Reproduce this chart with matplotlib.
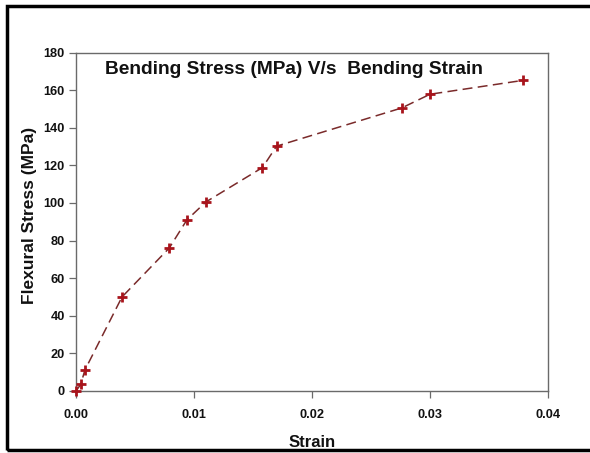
import numpy as np
import matplotlib
matplotlib.use('Agg')
from matplotlib import pyplot as plt
from matplotlib.patches import Rectangle

# values
strain = [0.0, 0.0004, 0.00076, 0.0039, 0.0079, 0.0094, 0.0110, 0.0158, 0.0170, 0.0276, 0.0300, 0.0379]
stress = [0.0, 3.5, 11.2, 50.0, 76.0, 91.0, 100.5, 118.8, 130.2, 150.5, 157.8, 165.2]

xticks = [0.00, 0.01, 0.02, 0.03, 0.04]
yticks = [0, 20, 40, 60, 80, 100, 120, 140, 160, 180]

plt.rcParams['font.family'] = ['Liberation Sans', 'DejaVu Sans']
plt.rcParams['font.weight'] = 'bold'

fig = plt.figure(figsize=(5.9, 4.53), dpi=100)
ax = fig.add_axes([0.1288, 0.1369, 0.8, 0.7472])

ax.plot(strain, stress, linestyle=(0, (6.5, 3.5)), color='#7a2a2a', lw=1.1,
        marker='+', markersize=6.5, markeredgewidth=2.0,
        markeredgecolor='#a8141c', zorder=3, clip_on=False)

ax.set_xlim(0, 0.04)
ax.set_ylim(0, 180)
ax.set_xticks(xticks)
ax.set_xticklabels(['%.2f' % t for t in xticks])
ax.set_yticks(yticks)

for s in ax.spines.values():
    s.set_color('#6a6a6a')
    s.set_linewidth(1.0)
ax.tick_params(axis='both', direction='out', length=5, width=0.9,
               color='#6a6a6a', labelsize=9.2, labelcolor='#111111')
ax.tick_params(axis='x', pad=8)
ax.tick_params(axis='y', pad=3)

ax.set_xlabel('Strain', fontsize=12, fontweight='bold', color='#111111', labelpad=10)
ax.set_ylabel('Flexural Stress (MPa)', fontsize=12.5, fontweight='bold', color='#111111')
ax.yaxis.set_label_coords(-0.082, 0.52)

ax.text(0.061, 0.951, 'Bending Stress (MPa) V/s  Bending Strain', transform=ax.transAxes,
        ha='left', va='center', fontsize=13.8, fontweight='bold', color='#111111')

# black frame around the figure
frame = Rectangle((0.0119, 0.0066), 1.0, 0.9802, transform=fig.transFigure,
                  fill=False, edgecolor='black', lw=2.5, clip_on=False)
fig.patches.append(frame)

fig.savefig('out.png', dpi=100, facecolor='white')
